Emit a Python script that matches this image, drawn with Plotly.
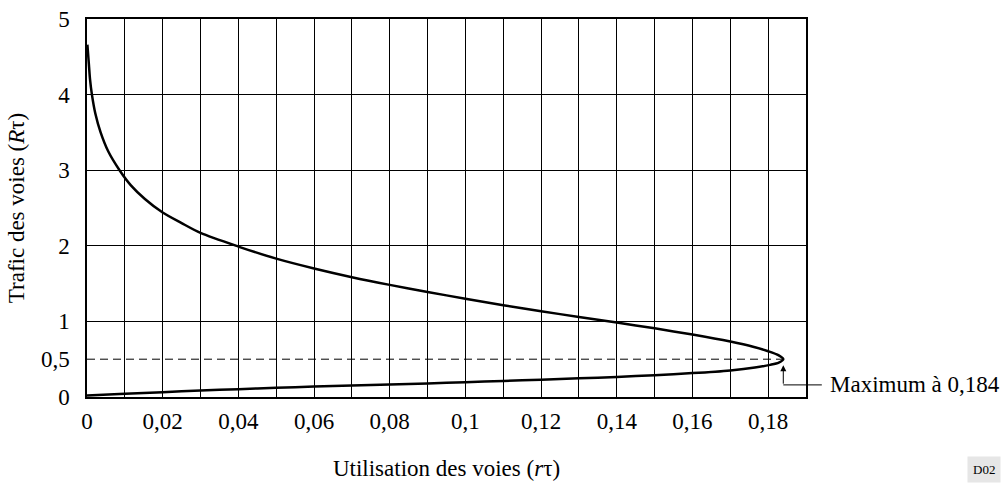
import plotly.graph_objects as go

# Upper branch: channel utilisation rτ vs channel traffic Rτ
upper_x = [0.0001, 0.0005, 0.0008, 0.0013, 0.0022, 0.0036, 0.0056, 0.0086, 0.0116, 0.0153,
           0.0200, 0.0250, 0.0300, 0.0400, 0.0500, 0.0600, 0.0700, 0.0800, 0.0900, 0.1000,
           0.1100, 0.1200, 0.1300, 0.1400, 0.1500, 0.1600, 0.1700, 0.1760, 0.1800, 0.1828, 0.1840]
upper_y = [4.66, 4.40, 4.20, 4.00, 3.75, 3.50, 3.25, 3.00, 2.80, 2.62,
           2.44, 2.30, 2.17, 1.99, 1.83, 1.70, 1.585, 1.483, 1.389, 1.30,
           1.215, 1.135, 1.058, 0.985, 0.908, 0.826, 0.733, 0.665, 0.605, 0.55, 0.50]
# Lower branch
lower_x = [0.1840, 0.1828, 0.1805, 0.1765, 0.1700, 0.1600, 0.1500, 0.1400, 0.1300, 0.1200,
           0.1100, 0.1000, 0.0900, 0.0800, 0.0700, 0.0600, 0.0500, 0.0400, 0.0300, 0.0200,
           0.0100, 0.0000]
lower_y = [0.50, 0.455, 0.425, 0.39, 0.352, 0.316, 0.289, 0.266, 0.247, 0.229,
           0.212, 0.195, 0.180, 0.166, 0.152, 0.138, 0.122, 0.104, 0.085, 0.064,
           0.042, 0.02]

max_x = 0.184
max_y = 0.5

x_tick_vals = [0, 0.02, 0.04, 0.06, 0.08, 0.10, 0.12, 0.14, 0.16, 0.18]
x_tick_text = ["0", "0,02", "0,04", "0,06", "0,08", "0,1", "0,12", "0,14", "0,16", "0,18"]
x_grid_vals = [0.01 * i for i in range(1, 19)]
y_tick_vals = [0, 0.5, 1, 2, 3, 4, 5]
y_tick_text = ["0", "0,5", "1", "2", "3", "4", "5"]
y_grid_vals = [1, 2, 3, 4]

FONT = "Liberation Serif, Times New Roman, serif"
FS = 23

fig = go.Figure()
fig.add_trace(go.Scatter(x=[0, max_x], y=[max_y, max_y], mode="lines",
                         line=dict(color="black", width=1, dash="8px,5px"),
                         hoverinfo="skip", showlegend=False))
fig.add_trace(go.Scatter(x=upper_x + lower_x[1:], y=upper_y + lower_y[1:], mode="lines",
                         line=dict(color="black", width=2.5, shape="spline", smoothing=0.8),
                         showlegend=False))

fig.update_layout(
    width=1005, height=483,
    margin=dict(l=87, r=199, t=19, b=86),
    paper_bgcolor="white", plot_bgcolor="white",
    font=dict(family=FONT, size=FS, color="black"),
    xaxis=dict(range=[0, 0.19], tickvals=x_tick_vals, ticktext=x_tick_text,
               showgrid=False, zeroline=False, ticks="", ticklabelstandoff=3,
               showline=True, linecolor="black", linewidth=1.5, mirror=True,
               minor=dict(tickvals=x_grid_vals, showgrid=True, gridcolor="black", gridwidth=1, ticks=""),
               title=dict(text="Utilisation des voies (<i>r</i>τ)", standoff=27,
                          font=dict(family=FONT, size=FS)),
               automargin=False),
    yaxis=dict(range=[0, 5], tickvals=y_tick_vals, ticktext=y_tick_text,
               showgrid=False, zeroline=False, ticks="", ticklabelstandoff=11,
               ticklabeloverflow="allow",
               showline=True, linecolor="black", linewidth=1.5, mirror=True,
               minor=dict(tickvals=y_grid_vals, showgrid=True, gridcolor="black", gridwidth=1, ticks=""),
               title=dict(text="Trafic des voies (<i>R</i>τ)", standoff=10,
                          font=dict(family=FONT, size=FS)),
               automargin=False),
)

# Bent arrow pointing at the maximum
fig.add_annotation(x=max_x, y=max_y, xref="x", yref="y", text="", showarrow=True,
                   arrowhead=2, arrowsize=1.2, arrowwidth=1, arrowcolor="black",
                   ax=0, ay=26, standoff=6)
fig.add_shape(type="line", xref="paper", yref="paper", x0=max_x / 0.19, x1=1.022,
              y0=0.032, y1=0.032, line=dict(color="black", width=1))
fig.add_annotation(x=1.031, y=0.032, xref="paper", yref="paper",
                   text="Maximum à 0,184", showarrow=False, xanchor="left", yanchor="middle",
                   font=dict(family=FONT, size=FS))
fig.add_annotation(x=1.2475, y=-0.193, xref="paper", yref="paper", text="D02",
                   showarrow=False, bgcolor="#e6e6e6", borderpad=5,
                   xanchor="center", yanchor="middle",
                   font=dict(family=FONT, size=13))

fig.write_html("out.html", config={"displayModeBar": False},
               post_script="document.body.style.margin='0';")
